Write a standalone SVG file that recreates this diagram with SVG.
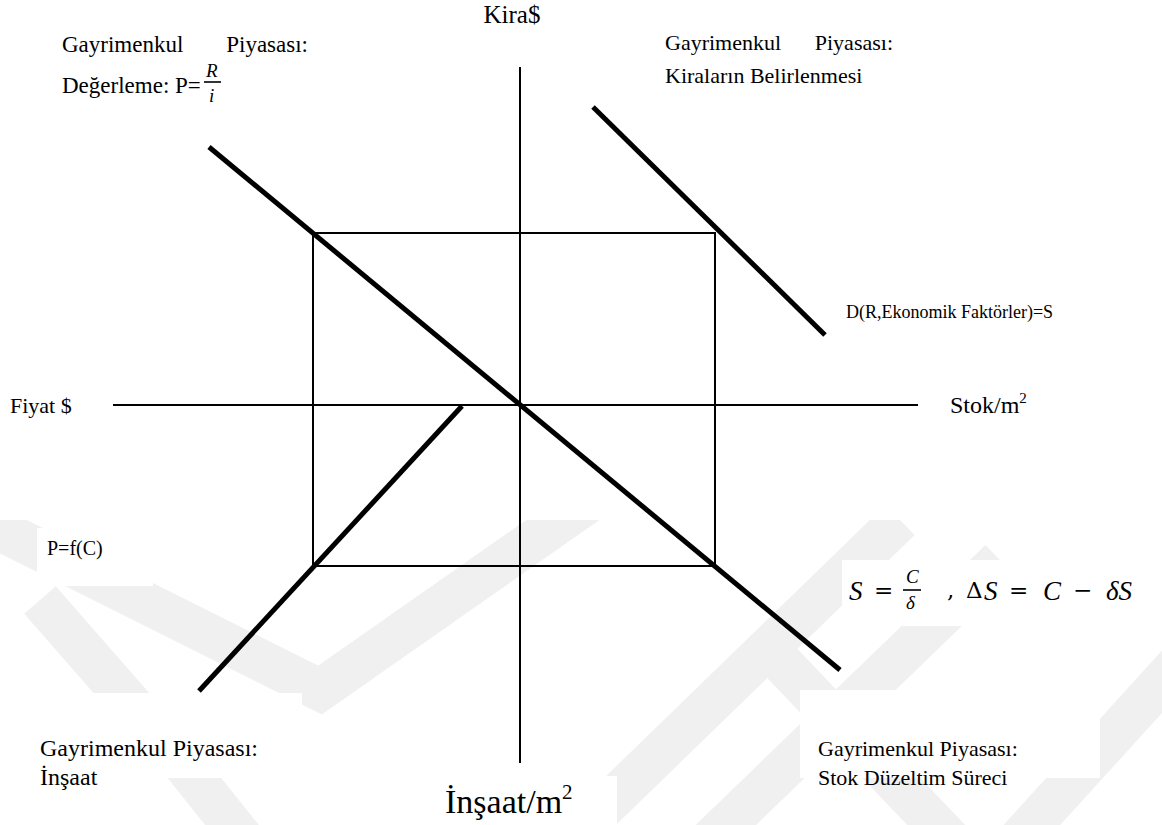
<svg xmlns="http://www.w3.org/2000/svg" width="1162" height="825" viewBox="0 0 1162 825" font-family="'Liberation Serif','Times New Roman',serif">
<style>
text{font-family:"Liberation Serif","Times New Roman",serif;fill:#000}
.lbl{font-size:22px}
.mi{font-family:"Liberation Serif","DejaVu Serif",serif;font-style:italic;font-size:27px}
.mo{font-family:"DejaVu Serif","Liberation Serif",serif;font-size:23px}
.fr{font-family:"Liberation Serif","DejaVu Serif",serif;font-style:italic;font-size:19px}
.thin{stroke:#000;stroke-width:2;fill:none}
.thick{stroke:#000;stroke-width:5;fill:none}
.bar{stroke:#000;stroke-width:1.6}
.wm{stroke:#f0f0f0;stroke-width:42;fill:none;stroke-linejoin:miter}
.bg{fill:#fff}
</style>
<defs>
<clipPath id="wmclip"><rect x="0" y="520" width="1162" height="305"/></clipPath>
</defs>
<rect width="1162" height="825" fill="#fff"/>
<g id="watermark" clip-path="url(#wmclip)">
<polyline class="wm" points="-20,520 320,690 620,480"/>
<polyline class="wm" points="40,600 180,760 260,860"/>
<polyline class="wm" points="560,850 900,520"/>
<polyline class="wm" points="700,850 1000,560"/>
<polyline class="wm" points="760,640 960,850"/>
<polyline class="wm" points="1000,860 1200,640"/>
</g>
<g id="backgrounds">
<rect class="bg" x="37" y="528" width="116" height="58"/>
<rect class="bg" x="842" y="560" width="320" height="66"/>
<rect class="bg" x="30" y="693" width="272" height="85"/>
<rect class="bg" x="800" y="690" width="300" height="88"/>
<rect class="bg" x="436" y="776" width="181" height="49"/>
</g>
<g id="connectors">
<line class="thin" x1="520" y1="67" x2="520" y2="763"/>
<line class="thin" x1="113" y1="405" x2="918" y2="405"/>
<rect class="thin" x="313" y="233" width="402" height="333"/>
<line class="thick" x1="209" y1="147" x2="840" y2="670"/>
<line class="thick" x1="593" y1="107" x2="825" y2="335"/>
<line class="thick" x1="462" y1="406" x2="199" y2="691"/>
</g>
<g id="axis-rent"><text font-size="25" x="512" y="23" text-anchor="middle">Kira$</text></g>
<g id="axis-price"><text class="lbl" x="10" y="413">Fiyat $</text></g>
<g id="axis-stock"><text font-size="24" x="950" y="413">Stok/m<tspan font-size="15" dy="-10">2</tspan></text></g>
<g id="axis-construction"><text font-size="34" x="445" y="813">İnşaat/m<tspan font-size="21" dy="-14">2</tspan></text></g>
<g id="q-valuation">
<text font-size="23" x="62" y="52">Gayrimenkul</text>
<text font-size="23" x="308" y="52" text-anchor="end">Piyasası:</text>
<text font-size="23" x="62" y="93">Değerleme: P=</text>
<text class="fr" x="206" y="77">R</text>
<line class="bar" x1="204" y1="82" x2="221" y2="82"/>
<text class="fr" x="209" y="102">i</text>
</g>
<g id="q-rent">
<text class="lbl" x="665" y="50">Gayrimenkul</text>
<text class="lbl" x="893" y="50" text-anchor="end">Piyasası:</text>
<text class="lbl" x="665" y="83">Kiraların Belirlenmesi</text>
</g>
<g id="demand-label"><text font-size="18" x="846" y="318">D(R,Ekonomik Faktörler)=S</text></g>
<g id="cost-label"><text font-size="20" x="47" y="555">P=f(C)</text></g>
<g id="stock-formula">
<text class="mi" x="849" y="600">S</text>
<text class="mo" x="874" y="598">=</text>
<text class="fr" x="906" y="583">C</text>
<line class="bar" x1="903" y1="590" x2="921" y2="590"/>
<text class="fr" x="906" y="609">δ</text>
<text class="mo" x="947" y="598">,</text>
<text class="mo" x="966" y="598">Δ</text>
<text class="mi" x="984" y="600">S</text>
<text class="mo" x="1009" y="598">=</text>
<text class="mi" x="1043" y="600">C</text>
<text class="mo" x="1073" y="598">−</text>
<text class="mi" x="1106" y="600">δS</text>
</g>
<g id="q-construction">
<text font-size="24" x="40" y="756">Gayrimenkul Piyasası:</text>
<text font-size="24" x="40" y="785">İnşaat</text>
</g>
<g id="q-stock">
<text class="lbl" x="818" y="756">Gayrimenkul Piyasası:</text>
<text class="lbl" x="818" y="785">Stok Düzeltim Süreci</text>
</g>
</svg>
